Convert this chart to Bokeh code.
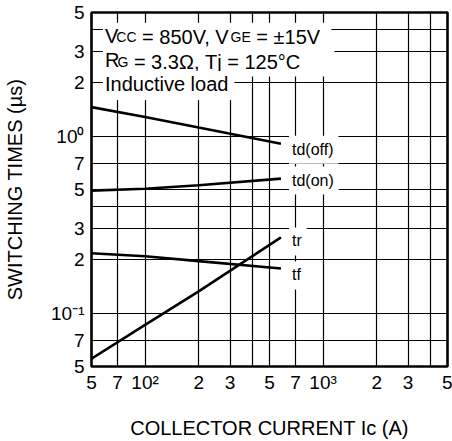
from bokeh.plotting import figure
from bokeh.models import Range1d, FixedTicker, CustomJSTickFormatter, Label
from bokeh.embed import file_html
from bokeh.resources import INLINE

# ---------------- data ----------------
x_ticks = [50, 70, 100, 200, 300, 500, 700, 1000, 2000, 3000, 5000]
x_tick_labels = ["5", "7", "10\u00b2", "2", "3", "5", "7", "10\u00b3", "2", "3", "5"]
y_ticks = [0.05, 0.07, 0.1, 0.2, 0.3, 0.5, 0.7, 1, 2, 3, 5]
y_tick_labels = ["5", "7", "10\u207b\u00b9", "2", "3", "5", "7", "10\u2070", "2", "3", "5"]
x_grid = [70, 100, 200, 300, 400, 500, 700, 1000, 2000, 3000, 4000]
y_grid = [0.07, 0.1, 0.2, 0.3, 0.4, 0.5, 0.7, 1, 2, 3, 4]

ic = [50, 100, 200, 580]            # collector current (A)
td_off = [1.46, 1.285, 1.12, 0.907]  # us
td_on = [0.493, 0.505, 0.528, 0.576]
t_r = [0.0553, 0.086, 0.133, 0.268]
t_f = [0.218, 0.210, 0.197, 0.179]

series = [("td(off)", td_off), ("td(on)", td_on), ("tr", t_r), ("tf", t_f)]

FONT = "Liberation Sans"
NB = "\u00a0"

# Arial / Liberation Sans advance widths (per 1000 em)
AW = {' ': 278, NB: 278, ',': 278, '.': 278, '=': 584, '\u00b1': 584, '\u00b0': 400, '\u03a9': 768,
      'V': 667, 'C': 722, 'G': 778, 'E': 667, 'R': 722, 'T': 611, 'I': 278,
      'j': 222, 'n': 556, 'd': 556, 'u': 556, 'c': 500, 't': 278, 'i': 222,
      'v': 500, 'e': 556, 'l': 222, 'o': 556, 'a': 556}


def tw(s, size):
    return sum(AW.get(ch, 556) for ch in s) * size / 1000.0


p = figure(width=452, height=441, x_axis_type="log", y_axis_type="log",
           x_range=Range1d(50, 5000), y_range=Range1d(0.05, 5),
           output_backend="svg", toolbar_location=None,
           min_border_left=91, min_border_right=5, min_border_top=12,
           min_border_bottom=73)
p.background_fill_color = "white"
p.border_fill_color = "white"
p.outline_line_color = "black"
p.outline_line_width = 2.6

fmt_code = """
let best = 0; let bd = Infinity;
for (let i = 0; i < vals.length; i++) {
  const d = Math.abs(Math.log(tick) - Math.log(vals[i]));
  if (d < bd) { bd = d; best = i; }
}
return labs[best];
"""

for ax, ticks, labs in ((p.xaxis[0], x_ticks, x_tick_labels),
                        (p.yaxis[0], y_ticks, y_tick_labels)):
    ax.ticker = FixedTicker(ticks=ticks, minor_ticks=[])
    ax.formatter = CustomJSTickFormatter(args=dict(vals=ticks, labs=labs), code=fmt_code)
    ax.axis_line_color = None
    ax.major_tick_line_color = None
    ax.minor_tick_line_color = None
    ax.major_tick_in = 0
    ax.major_tick_out = 0
    ax.major_label_text_font = FONT
    ax.major_label_text_font_size = "19px"
    ax.major_label_text_color = "black"
    ax.axis_label_text_font = FONT
    ax.axis_label_text_font_size = "20px"
    ax.axis_label_text_font_style = "normal"
    ax.axis_label_text_color = "black"

p.xaxis.axis_label = "COLLECTOR CURRENT Ic (A)"
p.yaxis.axis_label = "SWITCHING TIMES (\u00b5s)"
p.xaxis.major_label_standoff = 5
p.yaxis.major_label_standoff = 7
p.xaxis.axis_label_standoff = 21
p.yaxis.axis_label_standoff = 22

p.xgrid.ticker = FixedTicker(ticks=x_grid, minor_ticks=[])
p.ygrid.ticker = FixedTicker(ticks=y_grid, minor_ticks=[])
for g in (p.xgrid[0], p.ygrid[0]):
    g.grid_line_color = "black"
    g.grid_line_width = 1.2
    g.grid_line_alpha = 1.0

for name, vals in series:
    p.line(ic, vals, line_color="black", line_width=2.6)

label_dy = {"td(off)": -6, "td(on)": -2, "tr": -4, "tf": -7}
for name, vals in series:
    p.add_layout(Label(x=ic[-1], y=vals[-1], x_offset=8, y_offset=label_dy[name],
                       text=name, text_font=FONT, text_font_size="16px",
                       text_color="black", text_baseline="alphabetic",
                       background_fill_color="white", padding=(3, 5, 5, 6)))

BIG, SMALL = 20, 14
lines = [
    ([("V", BIG), ("CC", SMALL), (NB + "=" + NB + "850V," + NB + "V", BIG), ("GE", SMALL),
      (NB + "=" + NB + "\u00b115V", BIG)], 24.7, 238),
    ([("R", BIG), ("G", SMALL), (NB + "=" + NB + "3.3\u03a9," + NB + "Tj" + NB + "=" + NB + "125\u00b0C", BIG)], 49.4, 241),
    ([("Inductive" + NB + "load", BIG)], 72.9, 141),
]
x0 = 11.5
for segs, base, box_right in lines:
    cx = x0
    for k, (txt, sz) in enumerate(segs):
        kw = {}
        if k == 0:
            pr = int(round(box_right - (x0 + tw(txt, sz))))
            kw = dict(background_fill_color="white", padding=(2, pr, 2, 5))
        p.add_layout(Label(x=50, y=5, x_offset=cx, y_offset=-base, text=txt,
                           text_font=FONT, text_font_size=f"{sz}px",
                           text_color="black", text_baseline="alphabetic", **kw))
        cx += tw(txt, sz)

open("out.html", "w").write(file_html(p, INLINE))
